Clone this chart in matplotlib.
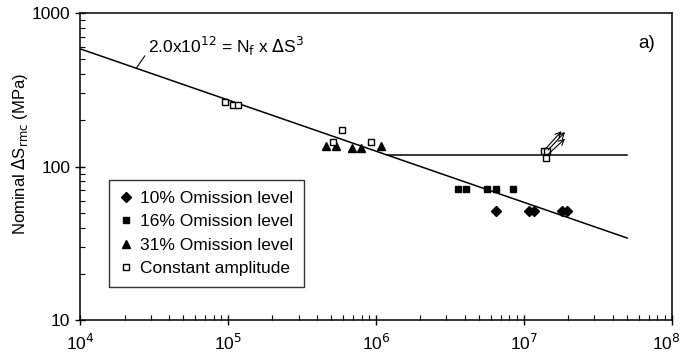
import numpy as np
import matplotlib
matplotlib.use("Agg")
import matplotlib.pyplot as plt
import matplotlib.transforms as mtransforms
from matplotlib.ticker import LogLocator, NullFormatter, FixedLocator

plt.rcParams['font.family'] = ['Liberation Sans', 'DejaVu Sans']

# Data (cycles, stress range in MPa)
om10_n = [6.5e6, 1.08e7, 1.18e7, 1.81e7, 1.95e7]
om10_s = [51, 51, 51, 51, 51]

om16_n = [3.6e6, 4.05e6, 5.65e6, 6.45e6, 8.4e6]
om16_s = [71, 71, 71, 71, 71]

om31_n = [4.6e5, 5.4e5, 6.95e5, 7.9e5, 1.08e6]
om31_s = [136, 136, 132, 132, 136]

ca_n = [9.5e4, 1.09e5, 1.17e5, 5.1e5, 5.9e5, 9.2e5, 1.36e7, 1.43e7, 1.41e7]
ca_s = [265, 252, 252, 145, 174, 145, 127, 127, 114]

# S-N curve: C = N * S^3
C = 2.0e12
n_end = 5.0e7
cafl = 119  # horizontal cut-off level

# run-out arrows (start, end)
runouts = [((1.40e7, 130), (1.80e7, 170)),
           ((1.46e7, 128), (1.90e7, 168)),
           ((1.46e7, 120), (1.90e7, 152))]

fig = plt.figure(figsize=(6.84, 3.62), dpi=100)
ax = fig.add_axes([0.117, 0.116, 0.865, 0.848])

n_line = np.logspace(4, np.log10(n_end), 200)
ax.plot(n_line, (C / n_line) ** (1 / 3), color='black', lw=1.1)
n_knee = C / cafl ** 3
ax.plot([n_knee, n_end], [cafl, cafl], color='black', lw=1.1)

ax.plot(om10_n, om10_s, 'D', color='black', ms=5.5, ls='none', label='10% Omission level')
ax.plot(om16_n, om16_s, 's', color='black', ms=5, ls='none', label='16% Omission level')
ax.plot(om31_n, om31_s, '^', color='black', ms=6, ls='none', label='31% Omission level')
ax.plot(ca_n, ca_s, 's', mfc='white', mec='black', mew=1.0, ms=5, ls='none',
        label='Constant amplitude')

for (x0, y0), (x1, y1) in runouts:
    ax.annotate('', xy=(x1, y1), xytext=(x0, y0),
                arrowprops=dict(arrowstyle='->', color='black', lw=0.8,
                                shrinkA=0, shrinkB=0))

# equation label with leader line
ax.annotate(r'2.0x10$^{12}$ = N$_{\rm f}$ x $\Delta$S$^3$', xy=(2.4e4, (C / 2.4e4) ** (1 / 3)),
            xytext=(2.9e4, 610), fontsize=12.5, va='center', ha='left',
            arrowprops=dict(arrowstyle='-', color='black', lw=0.8, shrinkA=1, shrinkB=0,
                            relpos=(0, 0.3)))
ax.text(0.943, 0.885, 'a)', transform=ax.transAxes, fontsize=13.5)

ax.set_xscale('log')
ax.set_yscale('log')
ax.set_xlim(1e4, 1e8)
ax.set_ylim(10, 1000)

ax.xaxis.set_major_locator(FixedLocator([1e4, 1e5, 1e6, 1e7, 1e8]))
ax.xaxis.set_minor_locator(LogLocator(base=10, subs=np.arange(2, 10), numticks=20))
ax.xaxis.set_minor_formatter(NullFormatter())
ax.yaxis.set_major_locator(FixedLocator([10, 100, 1000]))
ax.yaxis.set_minor_locator(LogLocator(base=10, subs=np.arange(2, 10), numticks=20))
ax.yaxis.set_minor_formatter(NullFormatter())
ax.set_yticklabels(['10', '100', '1000'])
ax.set_xticklabels([r'10$^4$', r'10$^5$', r'10$^6$', r'10$^7$', r'10$^8$'])

ax.tick_params(which='major', direction='inout', length=7, width=1, labelsize=12.5)
ax.tick_params(which='minor', direction='in', length=3.5, width=0.8)
ax.tick_params(axis='x', which='major', pad=6)
for s in ax.spines.values():
    s.set_linewidth(1.1)

# keep the last x label inside the figure
last = ax.get_xticklabels()[-1]
last.set_transform(last.get_transform() +
                   mtransforms.ScaledTranslation(-4 / 72, 0, fig.dpi_scale_trans))

ax.set_ylabel(r'Nominal $\Delta$S$_{\rm rmc}$ (MPa)', fontsize=12, labelpad=4)
ax.yaxis.set_label_coords(-0.085, 0.54)

leg = ax.legend(loc='lower left', bbox_to_anchor=(0.034, 0.08), fontsize=12.5,
                frameon=True, fancybox=False, edgecolor='black', handlelength=0.8,
                handletextpad=0.4, borderpad=0.6, labelspacing=0.48, markerscale=0.9)
leg.get_frame().set_linewidth(1.0)

fig.savefig('out.png', dpi=100)
